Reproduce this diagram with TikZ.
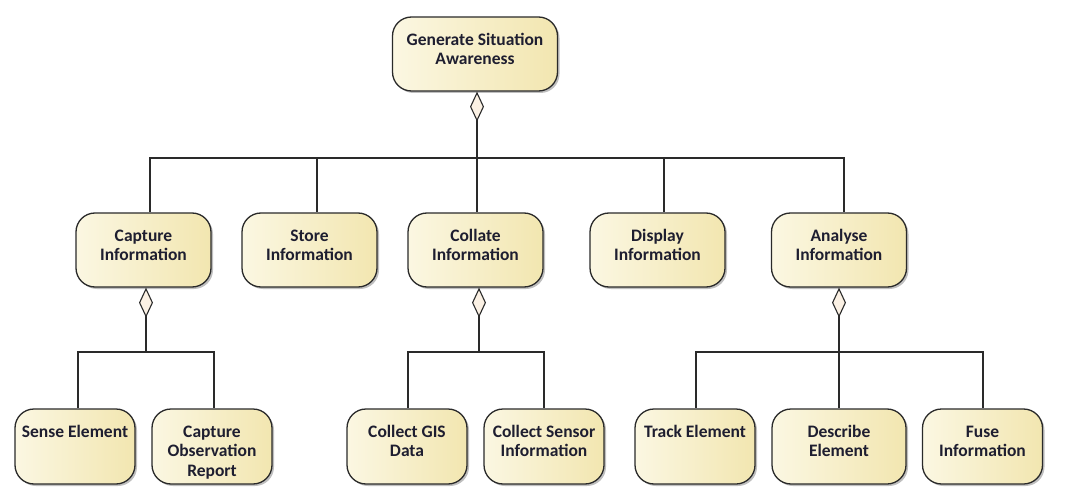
\documentclass[tikz,border=0pt]{standalone}
\usepackage{fontspec}
\setmainfont{Carlito}
\usetikzlibrary{arrows.meta,shadows,calc}
\definecolor{boxL}{HTML}{FBF7E2}
\definecolor{boxR}{HTML}{F2E6B0}
\definecolor{edge}{HTML}{2A2A2A}
\definecolor{txtc}{HTML}{1E1E30}
\definecolor{diam}{HTML}{FBF1E4}
\begin{document}
\begin{tikzpicture}[x=1pt,y=-1pt,
  box/.style={rectangle, rounded corners=19pt, draw=edge, line width=1.3pt,
    left color=boxL, right color=boxR, inner sep=0pt,
    drop shadow={shadow xshift=2pt, shadow yshift=-2pt, opacity=0.25, fill=black}},
  lbl/.style={anchor=base, align=center, inner sep=0pt, text=txtc,
    font=\fontsize{17.5}{19.5}\selectfont\bfseries},
  wire/.style={draw=edge, line width=1.2pt},
  agg/.style={wire, {Diamond[length=30pt, width=14pt, fill=diam, line width=1.1pt]}-}
]
\useasboundingbox (0,0) rectangle (1069,503);
% top
\node[box, minimum width=165pt, minimum height=74pt] (gsa) at (475,54) {};
\node[lbl] (tgsa) at ($(gsa.north)+(0,48.5)$) {Generate Situation\\Awareness};
% middle row
\node[box, minimum width=135pt, minimum height=74pt] (cap) at (143.5,250) {};
\node[box, minimum width=135pt, minimum height=74pt] (sto) at (309.5,250) {};
\node[box, minimum width=135pt, minimum height=74pt] (col) at (475.5,250) {};
\node[box, minimum width=135pt, minimum height=74pt] (dis) at (657.5,250) {};
\node[box, minimum width=135pt, minimum height=74pt] (ana) at (839,250) {};
\node[lbl] (tcap) at ($(cap.north)+(0,48.5)$) {Capture\\Information};
\node[lbl] (tsto) at ($(sto.north)+(0,48.5)$) {Store\\Information};
\node[lbl] (tcol) at ($(col.north)+(0,48.5)$) {Collate\\Information};
\node[lbl] (tdis) at ($(dis.north)+(0,48.5)$) {Display\\Information};
\node[lbl] (tana) at ($(ana.north)+(0,48.5)$) {Analyse\\Information};
% bottom row
\node[box, minimum width=120pt, minimum height=75pt] (sen) at (75,446.5) {};
\node[box, minimum width=120pt, minimum height=75pt] (cor) at (212,446.5) {};
\node[box, minimum width=120pt, minimum height=75pt] (gis) at (407,446.5) {};
\node[box, minimum width=120pt, minimum height=75pt] (csi) at (544,446.5) {};
\node[box, minimum width=120pt, minimum height=75pt] (trk) at (695,446.5) {};
\node[box, minimum width=134pt, minimum height=75pt] (des) at (839,446.5) {};
\node[box, minimum width=120pt, minimum height=75pt] (fus) at (982.5,446.5) {};
\node[lbl] (tsen) at ($(sen.north)+(0,29)$) {Sense Element};
\node[lbl] (tcor) at ($(cor.north)+(0,68)$) {Capture\\Observation\\Report};
\node[lbl] (tgis) at ($(gis.north)+(0,48.5)$) {Collect GIS\\Data};
\node[lbl] (tcsi) at ($(csi.north)+(0,48.5)$) {Collect Sensor\\Information};
\node[lbl] (ttrk) at ($(trk.north)+(0,29)$) {Track Element};
\node[lbl] (tdes) at ($(des.north)+(0,48.5)$) {Describe\\Element};
\node[lbl] (tfus) at ($(fus.north)+(0,48.5)$) {Fuse\\Information};
% junctions
\coordinate (j0) at (477,158);
\coordinate (j1) at (146,352);
\coordinate (j2) at (479,352);
\coordinate (j3) at (839,352);
% top aggregation
\draw[agg] ([xshift=2pt]gsa.south) -- (j0);
\draw[wire] (j0) -| ([xshift=6.5pt]cap.north);
\draw[wire] (j0) -| ([xshift=7.5pt]sto.north);
\draw[wire] (j0) -- ([xshift=1.5pt]col.north);
\draw[wire] (j0) -| ([xshift=6.5pt]dis.north);
\draw[wire] (j0) -| ([xshift=5pt]ana.north);
% capture
\draw[agg] ([xshift=2.5pt]cap.south) -- (j1);
\draw[wire] (j1) -| ([xshift=3pt]sen.north);
\draw[wire] (j1) -| ([xshift=2pt]cor.north);
% collate
\draw[agg] ([xshift=3.5pt]col.south) -- (j2);
\draw[wire] (j2) -| ([xshift=1pt]gis.north);
\draw[wire] (j2) -| (csi.north);
% analyse
\draw[agg] (ana.south) -- (j3);
\draw[wire] (j3) -| ([xshift=1pt]trk.north);
\draw[wire] (j3) -- (des.north);
\draw[wire] (j3) -| ([xshift=0.5pt]fus.north);
\end{tikzpicture}
\end{document}
